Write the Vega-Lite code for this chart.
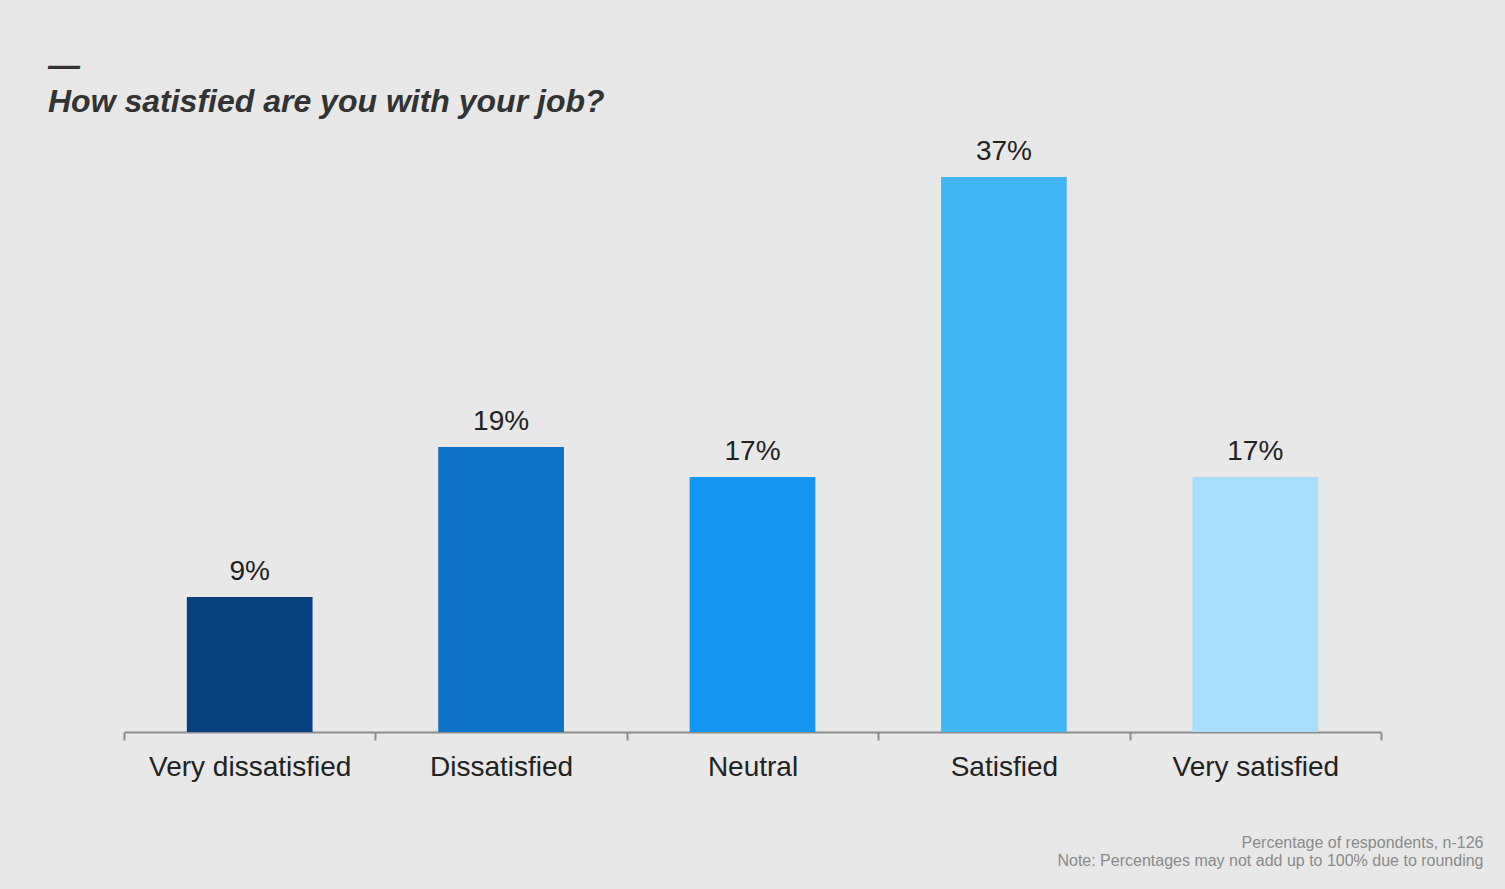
{
  "$schema": "https://vega.github.io/schema/vega-lite/v6.json",
  "width": 1257,
  "height": 555,
  "autosize": {"type": "none"},
  "padding": {"left": 124, "top": 177, "right": 124, "bottom": 157},
  "background": "#e8e8e8",
  "config": {
    "font": "Liberation Sans",
    "view": {"stroke": null}
  },
  "title": {
    "text": ["—", "How satisfied are you with your job?"],
    "anchor": "start",
    "frame": "group",
    "dx": -76,
    "offset": -6,
    "font": "Liberation Sans",
    "fontSize": 32,
    "fontWeight": "bold",
    "fontStyle": "italic",
    "color": "#333333",
    "lineHeight": 36,
    "baseline": "alphabetic"
  },
  "data": {
    "values": [
      {"response": "Very dissatisfied", "share": 0.09},
      {"response": "Dissatisfied", "share": 0.19},
      {"response": "Neutral", "share": 0.17},
      {"response": "Satisfied", "share": 0.37},
      {"response": "Very satisfied", "share": 0.17}
    ]
  },
  "encoding": {
    "x": {
      "field": "response",
      "type": "nominal",
      "sort": null,
      "scale": {"paddingInner": 0, "paddingOuter": 0},
      "axis": {
        "title": ["Percentage of respondents, n-126", "Note: Percentages may not add up to 100% due to rounding"],
        "titleAnchor": "end",
        "titleAlign": "right",
        "titleBaseline": "alphabetic",
        "titleX": 1359,
        "titleY": 115,
        "titleFontSize": 16,
        "titleFontWeight": "normal",
        "titleColor": "#8a8a8a",
        "titleLineHeight": 18,
        "labelAngle": 0,
        "labelFontSize": 28,
        "labelColor": "#222222",
        "labelPadding": 13,
        "labelLimit": 400,
        "tickBand": "extent",
        "tickSize": 8,
        "tickWidth": 2,
        "tickColor": "#8c8c8c",
        "domainColor": "#8c8c8c",
        "domainWidth": 2,
        "grid": false
      }
    },
    "y": {
      "field": "share",
      "type": "quantitative",
      "scale": {"domain": [0, 0.37], "nice": false},
      "axis": null
    }
  },
  "layer": [
    {
      "mark": {"type": "bar", "width": {"band": 0.5}},
      "encoding": {
        "color": {
          "field": "response",
          "type": "nominal",
          "scale": {
            "domain": ["Very dissatisfied", "Dissatisfied", "Neutral", "Satisfied", "Very satisfied"],
            "range": ["#07407f", "#0e72c6", "#1596f0", "#42b6f5", "#a7defb"]
          },
          "legend": null
        }
      }
    },
    {
      "mark": {"type": "text", "baseline": "alphabetic", "dy": -17, "fontSize": 28, "color": "#222222"},
      "encoding": {
        "text": {"field": "share", "type": "quantitative", "format": ".0%"}
      }
    }
  ]
}
